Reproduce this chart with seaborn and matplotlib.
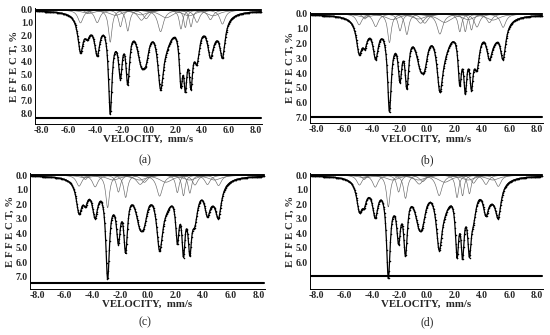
import numpy as np
import matplotlib.pyplot as plt
import seaborn as sns

sns.set_theme(style="white")
plt.rcParams['font.family'] = ['Liberation Serif', 'DejaVu Serif']
plt.rcParams['axes.unicode_minus'] = False

# spectrometer channels (mm/s)
velocity = np.linspace(-8.4, 8.4, 512)

# half widths of the resolved lines (mm/s), same line set in all four spectra
line_hw = [0.24, 0.18, 0.24, 0.16, 0.17, 0.17, 0.34, 0.28, 0.26, 0.15, 0.14, 0.15, 0.24, 0.24, 0.24]
# broad (distributed) part of the spectra
env_pos = [-4.5, -2.5, -0.6, 1.3, 3.0, 4.8]
env_hw = [0.6, 0.6, 0.6, 0.6, 0.6, 0.6]

# (a) line positions and depths, %
a_pos = [-5.1, -4.59, -3.85, -2.88, -2.12, -1.57, -0.55, -0.2, 0.88, 2.4, 2.73, 3.15, 3.6, 4.6, 5.5]
a_depth = [3.35, 2.36, 3.6, 8.1, 5.4, 5.85, 4.5, 4.3, 6.2, 6.05, 6.45, 6.2, 4.25, 3.75, 3.75]
a_env = [0.7, 1.1, 1.0, 1.6, 1.2, 1.2]

# (b)
b_pos = [-4.92, -4.5, -3.72, -2.72, -1.95, -1.45, -0.45, -0.15, 0.95, 2.4, 2.8, 3.25, 3.65, 4.55, 5.55]
b_depth = [2.75, 2.4, 3.1, 6.65, 4.65, 5.1, 3.9, 3.85, 5.3, 4.9, 5.45, 5.2, 3.85, 3.1, 3.1]
b_env = [0.6, 1.0, 0.9, 1.5, 1.0, 1.1]

# (c)
c_pos = [-4.96, -4.5, -3.8, -2.9, -2.12, -1.6, -0.55, -0.25, 0.85, 2.13, 2.57, 3.03, 3.4, 4.3, 5.1]
c_depth = [2.7, 2.2, 3.0, 7.2, 4.8, 5.4, 3.8, 3.6, 5.25, 4.8, 5.7, 5.6, 3.55, 2.9, 3.0]
c_env = [0.5, 0.9, 0.9, 1.3, 0.9, 0.9]

# (d)
d_pos = [-4.9, -4.55, -3.75, -2.8, -2.05, -1.55, -0.55, -0.3, 0.9, 2.2, 2.6, 3.1, 3.4, 4.3, 5.2]
d_depth = [2.6, 2.3, 3.0, 7.15, 4.8, 5.6, 3.8, 3.6, 5.2, 5.75, 5.85, 5.7, 3.45, 2.85, 3.0]
d_env = [0.5, 0.9, 0.9, 1.3, 0.9, 0.9]

residual_level = [8.42, 7.0, 7.45, 6.92]
y_max = [8, 7, 7, 6]
y_bottom = [8.85, 7.4, 7.85, 7.85]
panel_names = ['(a)', '(b)', '(c)', '(d)']


def lorentz(x, p, hw):
    return 1.0 / (1.0 + ((x - p) / hw) ** 2)


def build(pos, depth, env_amp):
    env = sum(a * lorentz(velocity, p, w) for a, p, w in zip(env_amp, env_pos, env_hw))
    env_at = np.array([sum(a * lorentz(q, p, w) for a, p, w in zip(env_amp, env_pos, env_hw)) for q in pos])
    m = np.array([[lorentz(qi, pj, wj) for pj, wj in zip(pos, line_hw)] for qi in pos])
    amp = np.clip(np.linalg.solve(m, np.array(depth) - env_at), 0, None)
    lines = [a * lorentz(velocity, p, w) for a, p, w in zip(amp, pos, line_hw)]
    envs = [a * lorentz(velocity, p, w) for a, p, w in zip(env_amp, env_pos, env_hw)]
    return env + sum(lines), lines, envs


fig = plt.figure(figsize=(5.5, 3.35), dpi=100)
rects = [[0.0636, 0.630, 0.4127, 0.346],
         [0.5636, 0.632, 0.4236, 0.333],
         [0.0545, 0.137, 0.4273, 0.347],
         [0.5636, 0.137, 0.4236, 0.347]]
label_xy = [(0.264, 0.522), (0.776, 0.522), (0.264, 0.039), (0.776, 0.039)]
data = [(a_pos, a_depth, a_env), (b_pos, b_depth, b_env),
        (c_pos, c_depth, c_env), (d_pos, d_depth, d_env)]

for i, (pos, depth, env_amp) in enumerate(data):
    ax = fig.add_axes(rects[i])
    spec, lines, envs = build(pos, depth, env_amp)
    for comp in lines + envs:
        sns.lineplot(x=velocity, y=0.38 * comp, ax=ax, color='0.4', lw=0.45)
    sns.lineplot(x=velocity, y=np.zeros_like(velocity), ax=ax, color='black', lw=1.3)
    sns.lineplot(x=velocity, y=spec, ax=ax, color='black', lw=0.9)
    ax.plot(velocity, spec, ls='none', marker='o', ms=1.1, mew=0, color='black')
    sns.lineplot(x=velocity, y=np.full_like(velocity, residual_level[i]), ax=ax, color='black', lw=1.5)

    ax.set_xlim(-8.5, 8.45)
    ax.set_ylim(y_bottom[i], -0.15)
    ax.set_xticks(np.arange(-8, 9, 2))
    ax.set_xticklabels([f'{v:.1f}' for v in np.arange(-8, 9, 2)])
    ax.set_yticks(np.arange(0, y_max[i] + 1))
    ax.set_yticklabels([f'{v:.1f}' for v in np.arange(0, y_max[i] + 1)])
    ax.tick_params(labelsize=7, length=2, width=0.6, direction='in', pad=1.5)
    for t in ax.get_xticklabels() + ax.get_yticklabels():
        t.set_fontweight('bold')
    ax.spines['top'].set_visible(False)
    ax.spines['right'].set_visible(False)
    for s in ['left', 'bottom']:
        ax.spines[s].set_color('black')
        ax.spines[s].set_linewidth(0.7)
    ax.set_xlabel('VELOCITY,  mm/s', fontsize=7.8, fontweight='bold', labelpad=0)
    ax.set_ylabel('E F F E C T, %', fontsize=7.8, fontweight='bold', labelpad=1)
    fig.text(label_xy[i][0], label_xy[i][1], panel_names[i], fontsize=8.5, ha='center', va='center')

fig.savefig('out.png', dpi=100)
